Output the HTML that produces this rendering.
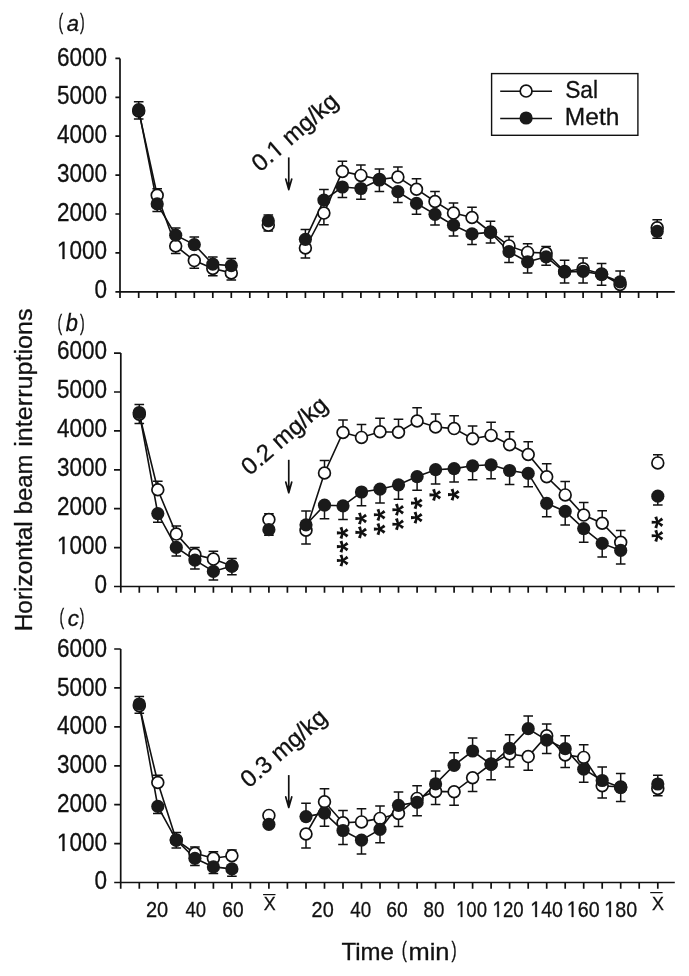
<!DOCTYPE html>
<html><head><meta charset="utf-8"><style>
html,body{margin:0;padding:0;background:#fff;width:689px;height:976px;overflow:hidden}
svg{display:block;filter:grayscale(1)}
text{font-family:"Liberation Sans", sans-serif;fill:#111;stroke:#111;stroke-width:0.3px}
</style></head><body>
<svg width="689" height="976" viewBox="0 0 689 976">
<defs><g id="ast"><path d="M0.00 -1.00L-5.90 -1.55L-5.90 1.55L-0.00 1.00ZM-0.95 -0.31L-3.30 5.13L-0.35 6.09L0.95 0.31ZM-0.59 0.81L3.86 4.72L5.68 2.21L0.59 -0.81ZM0.59 0.81L5.68 -2.21L3.86 -4.72L-0.59 -0.81ZM0.95 -0.31L-0.35 -6.09L-3.30 -5.13L-0.95 0.31Z" fill="#111"/><circle r="1.5" fill="#111"/></g></defs>
<path d="M120.0 58.4V298.1M120.0 291.8H674.8" stroke="#111" stroke-width="1.7" fill="none"/>
<path d="M115.4 291.8H120.0M115.4 252.9H120.0M115.4 214.0H120.0M115.4 175.1H120.0M115.4 136.2H120.0M115.4 97.3H120.0M115.4 58.4H120.0M138.7 291.8V298.1M157.2 291.8V298.1M175.7 291.8V298.1M194.3 291.8V298.1M212.8 291.8V298.1M231.3 291.8V298.1M249.8 291.8V298.1M268.3 291.8V298.1M286.8 291.8V298.1M305.4 291.8V298.1M323.9 291.8V298.1M342.4 291.8V298.1M360.9 291.8V298.1M379.4 291.8V298.1M397.9 291.8V298.1M416.5 291.8V298.1M435.0 291.8V298.1M453.5 291.8V298.1M472.0 291.8V298.1M490.5 291.8V298.1M509.0 291.8V298.1M527.6 291.8V298.1M546.1 291.8V298.1M564.6 291.8V298.1M583.1 291.8V298.1M601.6 291.8V298.1M620.1 291.8V298.1M638.6 291.8V298.1M657.2 291.8V298.1" stroke="#111" stroke-width="1.7" fill="none"/>
<text transform="translate(106.90 298.00) scale(0.9 1)" font-size="25" text-anchor="end">0</text>
<g transform="translate(106.90 259.00) scale(0.9 1)"><text font-size="25" text-anchor="end"> 000</text><path transform="translate(-55.615 0) scale(0.012207 -0.012207)" d="M515 0L515 1237L197 1010L197 1180L530 1409L696 1409L696 0Z" fill="#111" stroke="#111" stroke-width="24.6"/></g>
<text transform="translate(106.90 221.00) scale(0.9 1)" font-size="25" text-anchor="end">2000</text>
<text transform="translate(106.90 182.00) scale(0.9 1)" font-size="25" text-anchor="end">3000</text>
<text transform="translate(106.90 143.00) scale(0.9 1)" font-size="25" text-anchor="end">4000</text>
<text transform="translate(106.90 104.00) scale(0.9 1)" font-size="25" text-anchor="end">5000</text>
<text transform="translate(106.90 66.00) scale(0.9 1)" font-size="25" text-anchor="end">6000</text>
<polyline points="138.7,110.9 157.2,195.2 175.7,246.0 194.3,260.6 212.8,268.5 231.3,272.9" stroke="#111" stroke-width="1.6" fill="none"/>
<polyline points="138.7,109.7 157.2,203.9 175.7,235.2 194.3,244.6 212.8,264.2 231.3,265.6" stroke="#111" stroke-width="1.6" fill="none"/>
<polyline points="305.4,248.0 323.9,213.1 342.4,171.5 360.9,175.4 379.4,179.5 397.9,177.1 416.5,189.2 435.0,201.5 453.5,213.1 472.0,217.5 490.5,232.0 509.0,245.9 527.6,252.4 546.1,253.0 564.6,271.5 583.1,268.8 601.6,274.0 620.1,284.5" stroke="#111" stroke-width="1.6" fill="none"/>
<polyline points="305.4,239.3 323.9,200.1 342.4,187.0 360.9,188.5 379.4,180.0 397.9,191.7 416.5,203.4 435.0,214.3 453.5,225.2 472.0,233.9 490.5,232.4 509.0,251.7 527.6,261.8 546.1,256.8 564.6,272.0 583.1,271.4 601.6,274.5 620.1,281.9" stroke="#111" stroke-width="1.6" fill="none"/>
<path d="M138.7 109.7V101.8M133.9 101.8H143.5M138.7 110.9V119.0M133.9 119.0H143.5M157.2 195.2V188.7M152.4 188.7H162.0M157.2 203.9V211.6M152.4 211.6H162.0M175.7 235.2V227.9M170.9 227.9H180.5M175.7 246.0V253.6M170.9 253.6H180.5M194.3 244.6V237.0M189.5 237.0H199.1M194.3 260.6V268.2M189.5 268.2H199.1M212.8 264.2V256.9M208.0 256.9H217.6M212.8 268.5V275.8M208.0 275.8H217.6M231.3 265.6V258.4M226.5 258.4H236.1M231.3 272.9V279.9M226.5 279.9H236.1M268.3 220.8V214.9M263.5 214.9H273.1M268.3 225.1V231.0M263.5 231.0H273.1M305.4 239.3V229.5M300.6 229.5H310.2M305.4 248.0V258.1M300.6 258.1H310.2M323.9 200.1V189.5M319.1 189.5H328.7M323.9 213.1V224.7M319.1 224.7H328.7M342.4 171.5V161.2M337.6 161.2H347.2M342.4 187.0V197.6M337.6 197.6H347.2M360.9 175.4V165.0M356.1 165.0H365.7M360.9 188.5V199.3M356.1 199.3H365.7M379.4 179.5V168.9M374.6 168.9H384.2M379.4 180.0V191.4M374.6 191.4H384.2M397.9 177.1V167.1M393.1 167.1H402.7M397.9 191.7V202.5M393.1 202.5H402.7M416.5 189.2V178.7M411.7 178.7H421.3M416.5 203.4V214.2M411.7 214.2H421.3M435.0 201.5V191.4M430.2 191.4H439.8M435.0 214.3V225.0M430.2 225.0H439.8M453.5 213.1V203.0M448.7 203.0H458.3M453.5 225.2V235.9M448.7 235.9H458.3M472.0 217.5V207.3M467.2 207.3H476.8M472.0 233.9V244.6M467.2 244.6H476.8M490.5 232.0V221.2M485.7 221.2H495.3M490.5 232.4V243.0M485.7 243.0H495.3M509.0 245.9V236.4M504.2 236.4H513.8M509.0 251.7V262.6M504.2 262.6H513.8M527.6 252.4V243.7M522.8 243.7H532.4M527.6 261.8V273.0M522.8 273.0H532.4M546.1 253.0V246.6M541.3 246.6H550.9M546.1 256.8V265.2M541.3 265.2H550.9M564.6 271.5V260.2M559.8 260.2H569.4M564.6 272.0V283.0M559.8 283.0H569.4M583.1 268.8V258.0M578.3 258.0H587.9M583.1 271.4V283.1M578.3 283.1H587.9M601.6 274.0V263.6M596.8 263.6H606.4M601.6 274.5V285.3M596.8 285.3H606.4M620.1 281.9V271.1M615.3 271.1H624.9M657.2 227.8V219.8M652.4 219.8H662.0M657.2 231.4V238.3M652.4 238.3H662.0" stroke="#111" stroke-width="1.5" fill="none"/>
<circle cx="138.7" cy="110.9" r="5.9" fill="#fff" stroke="#111" stroke-width="1.7"/>
<circle cx="157.2" cy="195.2" r="5.9" fill="#fff" stroke="#111" stroke-width="1.7"/>
<circle cx="175.7" cy="246.0" r="5.9" fill="#fff" stroke="#111" stroke-width="1.7"/>
<circle cx="194.3" cy="260.6" r="5.9" fill="#fff" stroke="#111" stroke-width="1.7"/>
<circle cx="212.8" cy="268.5" r="5.9" fill="#fff" stroke="#111" stroke-width="1.7"/>
<circle cx="231.3" cy="272.9" r="5.9" fill="#fff" stroke="#111" stroke-width="1.7"/>
<circle cx="268.3" cy="225.1" r="5.9" fill="#fff" stroke="#111" stroke-width="1.7"/>
<circle cx="305.4" cy="248.0" r="5.9" fill="#fff" stroke="#111" stroke-width="1.7"/>
<circle cx="323.9" cy="213.1" r="5.9" fill="#fff" stroke="#111" stroke-width="1.7"/>
<circle cx="342.4" cy="171.5" r="5.9" fill="#fff" stroke="#111" stroke-width="1.7"/>
<circle cx="360.9" cy="175.4" r="5.9" fill="#fff" stroke="#111" stroke-width="1.7"/>
<circle cx="379.4" cy="179.5" r="5.9" fill="#fff" stroke="#111" stroke-width="1.7"/>
<circle cx="397.9" cy="177.1" r="5.9" fill="#fff" stroke="#111" stroke-width="1.7"/>
<circle cx="416.5" cy="189.2" r="5.9" fill="#fff" stroke="#111" stroke-width="1.7"/>
<circle cx="435.0" cy="201.5" r="5.9" fill="#fff" stroke="#111" stroke-width="1.7"/>
<circle cx="453.5" cy="213.1" r="5.9" fill="#fff" stroke="#111" stroke-width="1.7"/>
<circle cx="472.0" cy="217.5" r="5.9" fill="#fff" stroke="#111" stroke-width="1.7"/>
<circle cx="490.5" cy="232.0" r="5.9" fill="#fff" stroke="#111" stroke-width="1.7"/>
<circle cx="509.0" cy="245.9" r="5.9" fill="#fff" stroke="#111" stroke-width="1.7"/>
<circle cx="527.6" cy="252.4" r="5.9" fill="#fff" stroke="#111" stroke-width="1.7"/>
<circle cx="546.1" cy="253.0" r="5.9" fill="#fff" stroke="#111" stroke-width="1.7"/>
<circle cx="564.6" cy="271.5" r="5.9" fill="#fff" stroke="#111" stroke-width="1.7"/>
<circle cx="583.1" cy="268.8" r="5.9" fill="#fff" stroke="#111" stroke-width="1.7"/>
<circle cx="601.6" cy="274.0" r="5.9" fill="#fff" stroke="#111" stroke-width="1.7"/>
<circle cx="620.1" cy="284.5" r="5.9" fill="#fff" stroke="#111" stroke-width="1.7"/>
<circle cx="657.2" cy="227.8" r="5.9" fill="#fff" stroke="#111" stroke-width="1.7"/>
<circle cx="138.7" cy="109.7" r="6.6" fill="#1a1a1a"/>
<circle cx="157.2" cy="203.9" r="6.6" fill="#1a1a1a"/>
<circle cx="175.7" cy="235.2" r="6.6" fill="#1a1a1a"/>
<circle cx="194.3" cy="244.6" r="6.6" fill="#1a1a1a"/>
<circle cx="212.8" cy="264.2" r="6.6" fill="#1a1a1a"/>
<circle cx="231.3" cy="265.6" r="6.6" fill="#1a1a1a"/>
<circle cx="268.3" cy="220.8" r="6.6" fill="#1a1a1a"/>
<circle cx="305.4" cy="239.3" r="6.6" fill="#1a1a1a"/>
<circle cx="323.9" cy="200.1" r="6.6" fill="#1a1a1a"/>
<circle cx="342.4" cy="187.0" r="6.6" fill="#1a1a1a"/>
<circle cx="360.9" cy="188.5" r="6.6" fill="#1a1a1a"/>
<circle cx="379.4" cy="180.0" r="6.6" fill="#1a1a1a"/>
<circle cx="397.9" cy="191.7" r="6.6" fill="#1a1a1a"/>
<circle cx="416.5" cy="203.4" r="6.6" fill="#1a1a1a"/>
<circle cx="435.0" cy="214.3" r="6.6" fill="#1a1a1a"/>
<circle cx="453.5" cy="225.2" r="6.6" fill="#1a1a1a"/>
<circle cx="472.0" cy="233.9" r="6.6" fill="#1a1a1a"/>
<circle cx="490.5" cy="232.4" r="6.6" fill="#1a1a1a"/>
<circle cx="509.0" cy="251.7" r="6.6" fill="#1a1a1a"/>
<circle cx="527.6" cy="261.8" r="6.6" fill="#1a1a1a"/>
<circle cx="546.1" cy="256.8" r="6.6" fill="#1a1a1a"/>
<circle cx="564.6" cy="272.0" r="6.6" fill="#1a1a1a"/>
<circle cx="583.1" cy="271.4" r="6.6" fill="#1a1a1a"/>
<circle cx="601.6" cy="274.5" r="6.6" fill="#1a1a1a"/>
<circle cx="620.1" cy="281.9" r="6.6" fill="#1a1a1a"/>
<circle cx="657.2" cy="231.4" r="6.6" fill="#1a1a1a"/>
<path d="M288.75 157.4V187.6" stroke="#111" stroke-width="1.7"/>
<path d="M285.75 179.00L288.75 189.60L291.75 179.00" stroke="#111" stroke-width="1.7" fill="none" stroke-linejoin="round" stroke-linecap="round"/>
<path d="M287.05 182.60L288.75 190.40L290.45 182.60Z" fill="#111"/>
<path d="M120.8 353.1V592.8M120.8 586.5H674.8" stroke="#111" stroke-width="1.7" fill="none"/>
<path d="M114.0 586.5H120.8M114.0 547.6H120.8M114.0 508.7H120.8M114.0 469.8H120.8M114.0 430.9H120.8M114.0 392.0H120.8M114.0 353.1H120.8M139.3 586.5V592.8M157.8 586.5V592.8M176.3 586.5V592.8M194.9 586.5V592.8M213.4 586.5V592.8M231.9 586.5V592.8M250.4 586.5V592.8M268.9 586.5V592.8M287.4 586.5V592.8M306.0 586.5V592.8M324.5 586.5V592.8M343.0 586.5V592.8M361.5 586.5V592.8M380.0 586.5V592.8M398.5 586.5V592.8M417.1 586.5V592.8M435.6 586.5V592.8M454.1 586.5V592.8M472.6 586.5V592.8M491.1 586.5V592.8M509.6 586.5V592.8M528.2 586.5V592.8M546.7 586.5V592.8M565.2 586.5V592.8M583.7 586.5V592.8M602.2 586.5V592.8M620.7 586.5V592.8M639.2 586.5V592.8M657.8 586.5V592.8" stroke="#111" stroke-width="1.7" fill="none"/>
<text transform="translate(106.90 593.00) scale(0.9 1)" font-size="25" text-anchor="end">0</text>
<g transform="translate(106.90 554.00) scale(0.9 1)"><text font-size="25" text-anchor="end"> 000</text><path transform="translate(-55.615 0) scale(0.012207 -0.012207)" d="M515 0L515 1237L197 1010L197 1180L530 1409L696 1409L696 0Z" fill="#111" stroke="#111" stroke-width="24.6"/></g>
<text transform="translate(106.90 515.00) scale(0.9 1)" font-size="25" text-anchor="end">2000</text>
<text transform="translate(106.90 476.00) scale(0.9 1)" font-size="25" text-anchor="end">3000</text>
<text transform="translate(106.90 437.00) scale(0.9 1)" font-size="25" text-anchor="end">4000</text>
<text transform="translate(106.90 398.00) scale(0.9 1)" font-size="25" text-anchor="end">5000</text>
<text transform="translate(106.90 359.00) scale(0.9 1)" font-size="25" text-anchor="end">6000</text>
<polyline points="139.3,414.2 157.8,489.8 176.3,534.1 194.9,554.5 213.4,559.1 231.9,566.0" stroke="#111" stroke-width="1.6" fill="none"/>
<polyline points="139.3,412.5 157.8,513.6 176.3,547.4 194.9,560.1 213.4,571.4 231.9,566.1" stroke="#111" stroke-width="1.6" fill="none"/>
<polyline points="306.0,530.3 324.5,473.0 343.0,432.5 361.5,437.4 380.0,431.7 398.5,432.2 417.1,421.0 435.6,427.0 454.1,428.6 472.6,438.7 491.1,435.4 509.6,444.8 528.2,454.5 546.7,476.8 565.2,494.9 583.7,515.1 602.2,523.2 620.7,542.3" stroke="#111" stroke-width="1.6" fill="none"/>
<polyline points="306.0,524.8 324.5,505.2 343.0,505.8 361.5,492.0 380.0,489.2 398.5,484.8 417.1,476.6 435.6,469.7 454.1,468.6 472.6,465.8 491.1,464.8 509.6,470.5 528.2,473.4 546.7,503.3 565.2,511.4 583.7,528.6 602.2,543.4 620.7,550.4" stroke="#111" stroke-width="1.6" fill="none"/>
<path d="M139.3 412.5V404.4M134.5 404.4H144.1M139.3 414.2V423.4M134.5 423.4H144.1M157.8 489.8V481.2M153.0 481.2H162.6M157.8 513.6V522.2M153.0 522.2H162.6M176.3 534.1V525.9M171.5 525.9H181.1M176.3 547.4V556.0M171.5 556.0H181.1M194.9 554.5V547.4M190.1 547.4H199.7M194.9 560.1V568.9M190.1 568.9H199.7M213.4 559.1V551.3M208.6 551.3H218.2M213.4 571.4V580.0M208.6 580.0H218.2M231.9 566.0V558.4M227.1 558.4H236.7M231.9 566.1V574.7M227.1 574.7H236.7M268.9 519.6V513.7M264.1 513.7H273.7M268.9 529.7V535.3M264.1 535.3H273.7M306.0 524.8V510.9M301.2 510.9H310.8M306.0 530.3V543.9M301.2 543.9H310.8M324.5 473.0V460.6M319.7 460.6H329.3M324.5 505.2V518.7M319.7 518.7H329.3M343.0 432.5V420.0M338.2 420.0H347.8M343.0 505.8V519.6M338.2 519.6H347.8M361.5 437.4V424.6M356.7 424.6H366.3M361.5 492.0V505.7M356.7 505.7H366.3M380.0 431.7V418.3M375.2 418.3H384.8M380.0 489.2V503.1M375.2 503.1H384.8M398.5 432.2V419.2M393.7 419.2H403.3M398.5 484.8V499.3M393.7 499.3H403.3M417.1 421.0V407.8M412.3 407.8H421.9M417.1 476.6V490.2M412.3 490.2H421.9M435.6 427.0V413.9M430.8 413.9H440.4M435.6 469.7V484.1M430.8 484.1H440.4M454.1 428.6V415.7M449.3 415.7H458.9M454.1 468.6V482.0M449.3 482.0H458.9M472.6 438.7V426.1M467.8 426.1H477.4M472.6 465.8V479.8M467.8 479.8H477.4M491.1 435.4V422.3M486.3 422.3H495.9M491.1 464.8V478.7M486.3 478.7H495.9M509.6 444.8V431.7M504.8 431.7H514.4M509.6 470.5V484.5M504.8 484.5H514.4M528.2 454.5V441.8M523.4 441.8H533.0M528.2 473.4V486.7M523.4 486.7H533.0M546.7 476.8V463.8M541.9 463.8H551.5M546.7 503.3V516.8M541.9 516.8H551.5M565.2 494.9V481.4M560.4 481.4H570.0M565.2 511.4V524.9M560.4 524.9H570.0M583.7 515.1V502.5M578.9 502.5H588.5M583.7 528.6V542.3M578.9 542.3H588.5M602.2 523.2V510.8M597.4 510.8H607.0M602.2 543.4V557.1M597.4 557.1H607.0M620.7 542.3V530.4M615.9 530.4H625.5M620.7 550.4V564.1M615.9 564.1H625.5M657.8 462.9V454.8M653.0 454.8H662.6M657.8 496.2V504.9M653.0 504.9H662.6" stroke="#111" stroke-width="1.5" fill="none"/>
<circle cx="139.3" cy="414.2" r="5.9" fill="#fff" stroke="#111" stroke-width="1.7"/>
<circle cx="157.8" cy="489.8" r="5.9" fill="#fff" stroke="#111" stroke-width="1.7"/>
<circle cx="176.3" cy="534.1" r="5.9" fill="#fff" stroke="#111" stroke-width="1.7"/>
<circle cx="194.9" cy="554.5" r="5.9" fill="#fff" stroke="#111" stroke-width="1.7"/>
<circle cx="213.4" cy="559.1" r="5.9" fill="#fff" stroke="#111" stroke-width="1.7"/>
<circle cx="231.9" cy="566.0" r="5.9" fill="#fff" stroke="#111" stroke-width="1.7"/>
<circle cx="268.9" cy="519.6" r="5.9" fill="#fff" stroke="#111" stroke-width="1.7"/>
<circle cx="306.0" cy="530.3" r="5.9" fill="#fff" stroke="#111" stroke-width="1.7"/>
<circle cx="324.5" cy="473.0" r="5.9" fill="#fff" stroke="#111" stroke-width="1.7"/>
<circle cx="343.0" cy="432.5" r="5.9" fill="#fff" stroke="#111" stroke-width="1.7"/>
<circle cx="361.5" cy="437.4" r="5.9" fill="#fff" stroke="#111" stroke-width="1.7"/>
<circle cx="380.0" cy="431.7" r="5.9" fill="#fff" stroke="#111" stroke-width="1.7"/>
<circle cx="398.5" cy="432.2" r="5.9" fill="#fff" stroke="#111" stroke-width="1.7"/>
<circle cx="417.1" cy="421.0" r="5.9" fill="#fff" stroke="#111" stroke-width="1.7"/>
<circle cx="435.6" cy="427.0" r="5.9" fill="#fff" stroke="#111" stroke-width="1.7"/>
<circle cx="454.1" cy="428.6" r="5.9" fill="#fff" stroke="#111" stroke-width="1.7"/>
<circle cx="472.6" cy="438.7" r="5.9" fill="#fff" stroke="#111" stroke-width="1.7"/>
<circle cx="491.1" cy="435.4" r="5.9" fill="#fff" stroke="#111" stroke-width="1.7"/>
<circle cx="509.6" cy="444.8" r="5.9" fill="#fff" stroke="#111" stroke-width="1.7"/>
<circle cx="528.2" cy="454.5" r="5.9" fill="#fff" stroke="#111" stroke-width="1.7"/>
<circle cx="546.7" cy="476.8" r="5.9" fill="#fff" stroke="#111" stroke-width="1.7"/>
<circle cx="565.2" cy="494.9" r="5.9" fill="#fff" stroke="#111" stroke-width="1.7"/>
<circle cx="583.7" cy="515.1" r="5.9" fill="#fff" stroke="#111" stroke-width="1.7"/>
<circle cx="602.2" cy="523.2" r="5.9" fill="#fff" stroke="#111" stroke-width="1.7"/>
<circle cx="620.7" cy="542.3" r="5.9" fill="#fff" stroke="#111" stroke-width="1.7"/>
<circle cx="657.8" cy="462.9" r="5.9" fill="#fff" stroke="#111" stroke-width="1.7"/>
<circle cx="139.3" cy="412.5" r="6.6" fill="#1a1a1a"/>
<circle cx="157.8" cy="513.6" r="6.6" fill="#1a1a1a"/>
<circle cx="176.3" cy="547.4" r="6.6" fill="#1a1a1a"/>
<circle cx="194.9" cy="560.1" r="6.6" fill="#1a1a1a"/>
<circle cx="213.4" cy="571.4" r="6.6" fill="#1a1a1a"/>
<circle cx="231.9" cy="566.1" r="6.6" fill="#1a1a1a"/>
<circle cx="268.9" cy="529.7" r="6.6" fill="#1a1a1a"/>
<circle cx="306.0" cy="524.8" r="6.6" fill="#1a1a1a"/>
<circle cx="324.5" cy="505.2" r="6.6" fill="#1a1a1a"/>
<circle cx="343.0" cy="505.8" r="6.6" fill="#1a1a1a"/>
<circle cx="361.5" cy="492.0" r="6.6" fill="#1a1a1a"/>
<circle cx="380.0" cy="489.2" r="6.6" fill="#1a1a1a"/>
<circle cx="398.5" cy="484.8" r="6.6" fill="#1a1a1a"/>
<circle cx="417.1" cy="476.6" r="6.6" fill="#1a1a1a"/>
<circle cx="435.6" cy="469.7" r="6.6" fill="#1a1a1a"/>
<circle cx="454.1" cy="468.6" r="6.6" fill="#1a1a1a"/>
<circle cx="472.6" cy="465.8" r="6.6" fill="#1a1a1a"/>
<circle cx="491.1" cy="464.8" r="6.6" fill="#1a1a1a"/>
<circle cx="509.6" cy="470.5" r="6.6" fill="#1a1a1a"/>
<circle cx="528.2" cy="473.4" r="6.6" fill="#1a1a1a"/>
<circle cx="546.7" cy="503.3" r="6.6" fill="#1a1a1a"/>
<circle cx="565.2" cy="511.4" r="6.6" fill="#1a1a1a"/>
<circle cx="583.7" cy="528.6" r="6.6" fill="#1a1a1a"/>
<circle cx="602.2" cy="543.4" r="6.6" fill="#1a1a1a"/>
<circle cx="620.7" cy="550.4" r="6.6" fill="#1a1a1a"/>
<circle cx="657.8" cy="496.2" r="6.6" fill="#1a1a1a"/>
<use href="#ast" x="342.8" y="532.9"/>
<use href="#ast" x="342.8" y="546.6"/>
<use href="#ast" x="342.8" y="560.5"/>
<use href="#ast" x="361.3" y="518.5"/>
<use href="#ast" x="361.3" y="532.4"/>
<use href="#ast" x="379.8" y="514.8"/>
<use href="#ast" x="379.8" y="529.1"/>
<use href="#ast" x="398.3" y="509.7"/>
<use href="#ast" x="398.3" y="524.2"/>
<use href="#ast" x="416.9" y="503.1"/>
<use href="#ast" x="416.9" y="517.6"/>
<use href="#ast" x="435.4" y="494.9"/>
<use href="#ast" x="453.9" y="494.6"/>
<use href="#ast" x="657.6" y="522.3"/>
<use href="#ast" x="657.6" y="535.8"/>
<path d="M288.75 459.8V490.7" stroke="#111" stroke-width="1.7"/>
<path d="M285.75 482.10L288.75 492.70L291.75 482.10" stroke="#111" stroke-width="1.7" fill="none" stroke-linejoin="round" stroke-linecap="round"/>
<path d="M287.05 485.70L288.75 493.50L290.45 485.70Z" fill="#111"/>
<path d="M120.7 649.0V888.8M120.7 882.5H674.8" stroke="#111" stroke-width="1.7" fill="none"/>
<path d="M114.2 882.5H120.7M114.2 843.6H120.7M114.2 804.7H120.7M114.2 765.8H120.7M114.2 726.8H120.7M114.2 687.9H120.7M114.2 649.0H120.7M139.3 882.5V888.8M157.8 882.5V888.8M176.3 882.5V888.8M194.9 882.5V888.8M213.4 882.5V888.8M231.9 882.5V888.8M250.4 882.5V888.8M268.9 882.5V888.8M287.4 882.5V888.8M306.0 882.5V888.8M324.5 882.5V888.8M343.0 882.5V888.8M361.5 882.5V888.8M380.0 882.5V888.8M398.5 882.5V888.8M417.1 882.5V888.8M435.6 882.5V888.8M454.1 882.5V888.8M472.6 882.5V888.8M491.1 882.5V888.8M509.6 882.5V888.8M528.2 882.5V888.8M546.7 882.5V888.8M565.2 882.5V888.8M583.7 882.5V888.8M602.2 882.5V888.8M620.7 882.5V888.8M639.2 882.5V888.8M657.8 882.5V888.8" stroke="#111" stroke-width="1.7" fill="none"/>
<text transform="translate(106.90 889.00) scale(0.9 1)" font-size="25" text-anchor="end">0</text>
<g transform="translate(106.90 851.00) scale(0.9 1)"><text font-size="25" text-anchor="end"> 000</text><path transform="translate(-55.615 0) scale(0.012207 -0.012207)" d="M515 0L515 1237L197 1010L197 1180L530 1409L696 1409L696 0Z" fill="#111" stroke="#111" stroke-width="24.6"/></g>
<text transform="translate(106.90 812.00) scale(0.9 1)" font-size="25" text-anchor="end">2000</text>
<text transform="translate(106.90 773.00) scale(0.9 1)" font-size="25" text-anchor="end">3000</text>
<text transform="translate(106.90 734.00) scale(0.9 1)" font-size="25" text-anchor="end">4000</text>
<text transform="translate(106.90 696.00) scale(0.9 1)" font-size="25" text-anchor="end">5000</text>
<text transform="translate(106.90 657.00) scale(0.9 1)" font-size="25" text-anchor="end">6000</text>
<polyline points="139.3,705.7 157.8,782.5 176.3,840.0 194.9,853.2 213.4,858.3 231.9,855.8" stroke="#111" stroke-width="1.6" fill="none"/>
<polyline points="139.3,704.0 157.8,806.4 176.3,840.1 194.9,858.3 213.4,866.9 231.9,868.9" stroke="#111" stroke-width="1.6" fill="none"/>
<polyline points="306.0,834.0 324.5,801.8 343.0,822.7 361.5,821.9 380.0,818.4 398.5,813.5 417.1,798.4 435.6,791.4 454.1,791.8 472.6,777.8 491.1,764.0 509.6,754.0 528.2,756.6 546.7,735.7 565.2,754.9 583.7,757.4 602.2,785.8 620.7,787.0" stroke="#111" stroke-width="1.6" fill="none"/>
<polyline points="306.0,816.6 324.5,813.1 343.0,830.5 361.5,840.2 380.0,829.4 398.5,805.3 417.1,802.4 435.6,783.9 454.1,765.3 472.6,751.0 491.1,764.4 509.6,748.4 528.2,728.7 546.7,740.1 565.2,748.7 583.7,769.2 602.2,780.5 620.7,787.5" stroke="#111" stroke-width="1.6" fill="none"/>
<path d="M139.3 704.0V696.5M134.5 696.5H144.1M139.3 705.7V713.3M134.5 713.3H144.1M157.8 782.5V775.3M153.0 775.3H162.6M157.8 806.4V813.6M153.0 813.6H162.6M176.3 840.0V832.6M171.5 832.6H181.1M176.3 840.1V847.9M171.5 847.9H181.1M194.9 853.2V847.0M190.1 847.0H199.7M194.9 858.3V865.5M190.1 865.5H199.7M213.4 858.3V851.7M208.6 851.7H218.2M213.4 866.9V873.6M208.6 873.6H218.2M231.9 855.8V850.1M227.1 850.1H236.7M231.9 868.9V876.3M227.1 876.3H236.7M306.0 816.6V803.2M301.2 803.2H310.8M306.0 834.0V848.0M301.2 848.0H310.8M324.5 801.8V788.7M319.7 788.7H329.3M324.5 813.1V826.2M319.7 826.2H329.3M343.0 822.7V810.5M338.2 810.5H347.8M343.0 830.5V844.5M338.2 844.5H347.8M361.5 821.9V808.8M356.7 808.8H366.3M361.5 840.2V854.1M356.7 854.1H366.3M380.0 818.4V805.9M375.2 805.9H384.8M380.0 829.4V842.8M375.2 842.8H384.8M398.5 805.3V791.9M393.7 791.9H403.3M398.5 813.5V826.6M393.7 826.6H403.3M417.1 798.4V785.8M412.3 785.8H421.9M417.1 802.4V815.8M412.3 815.8H421.9M435.6 783.9V770.9M430.8 770.9H440.4M435.6 791.4V804.5M430.8 804.5H440.4M454.1 765.3V752.7M449.3 752.7H458.9M454.1 791.8V805.3M449.3 805.3H458.9M472.6 751.0V738.0M467.8 738.0H477.4M472.6 777.8V791.4M467.8 791.4H477.4M491.1 764.0V751.0M486.3 751.0H495.9M491.1 764.4V779.8M486.3 779.8H495.9M509.6 748.4V734.8M504.8 734.8H514.4M509.6 754.0V767.0M504.8 767.0H514.4M528.2 728.7V716.0M523.4 716.0H533.0M528.2 756.6V770.2M523.4 770.2H533.0M546.7 735.7V724.0M541.9 724.0H551.5M546.7 740.1V753.5M541.9 753.5H551.5M565.2 748.7V735.8M560.4 735.8H570.0M565.2 754.9V767.5M560.4 767.5H570.0M583.7 757.4V744.8M578.9 744.8H588.5M583.7 769.2V782.3M578.9 782.3H588.5M602.2 780.5V766.9M597.4 766.9H607.0M602.2 785.8V797.9M597.4 797.9H607.0M620.7 787.0V773.6M615.9 773.6H625.5M620.7 787.5V801.4M615.9 801.4H625.5M657.8 784.0V775.3M653.0 775.3H662.6M657.8 788.4V795.7M653.0 795.7H662.6" stroke="#111" stroke-width="1.5" fill="none"/>
<circle cx="139.3" cy="705.7" r="5.9" fill="#fff" stroke="#111" stroke-width="1.7"/>
<circle cx="157.8" cy="782.5" r="5.9" fill="#fff" stroke="#111" stroke-width="1.7"/>
<circle cx="176.3" cy="840.0" r="5.9" fill="#fff" stroke="#111" stroke-width="1.7"/>
<circle cx="194.9" cy="853.2" r="5.9" fill="#fff" stroke="#111" stroke-width="1.7"/>
<circle cx="213.4" cy="858.3" r="5.9" fill="#fff" stroke="#111" stroke-width="1.7"/>
<circle cx="231.9" cy="855.8" r="5.9" fill="#fff" stroke="#111" stroke-width="1.7"/>
<circle cx="268.9" cy="815.4" r="5.9" fill="#fff" stroke="#111" stroke-width="1.7"/>
<circle cx="306.0" cy="834.0" r="5.9" fill="#fff" stroke="#111" stroke-width="1.7"/>
<circle cx="324.5" cy="801.8" r="5.9" fill="#fff" stroke="#111" stroke-width="1.7"/>
<circle cx="343.0" cy="822.7" r="5.9" fill="#fff" stroke="#111" stroke-width="1.7"/>
<circle cx="361.5" cy="821.9" r="5.9" fill="#fff" stroke="#111" stroke-width="1.7"/>
<circle cx="380.0" cy="818.4" r="5.9" fill="#fff" stroke="#111" stroke-width="1.7"/>
<circle cx="398.5" cy="813.5" r="5.9" fill="#fff" stroke="#111" stroke-width="1.7"/>
<circle cx="417.1" cy="798.4" r="5.9" fill="#fff" stroke="#111" stroke-width="1.7"/>
<circle cx="435.6" cy="791.4" r="5.9" fill="#fff" stroke="#111" stroke-width="1.7"/>
<circle cx="454.1" cy="791.8" r="5.9" fill="#fff" stroke="#111" stroke-width="1.7"/>
<circle cx="472.6" cy="777.8" r="5.9" fill="#fff" stroke="#111" stroke-width="1.7"/>
<circle cx="491.1" cy="764.0" r="5.9" fill="#fff" stroke="#111" stroke-width="1.7"/>
<circle cx="509.6" cy="754.0" r="5.9" fill="#fff" stroke="#111" stroke-width="1.7"/>
<circle cx="528.2" cy="756.6" r="5.9" fill="#fff" stroke="#111" stroke-width="1.7"/>
<circle cx="546.7" cy="735.7" r="5.9" fill="#fff" stroke="#111" stroke-width="1.7"/>
<circle cx="565.2" cy="754.9" r="5.9" fill="#fff" stroke="#111" stroke-width="1.7"/>
<circle cx="583.7" cy="757.4" r="5.9" fill="#fff" stroke="#111" stroke-width="1.7"/>
<circle cx="602.2" cy="785.8" r="5.9" fill="#fff" stroke="#111" stroke-width="1.7"/>
<circle cx="620.7" cy="787.0" r="5.9" fill="#fff" stroke="#111" stroke-width="1.7"/>
<circle cx="657.8" cy="788.4" r="5.9" fill="#fff" stroke="#111" stroke-width="1.7"/>
<circle cx="139.3" cy="704.0" r="6.6" fill="#1a1a1a"/>
<circle cx="157.8" cy="806.4" r="6.6" fill="#1a1a1a"/>
<circle cx="176.3" cy="840.1" r="6.6" fill="#1a1a1a"/>
<circle cx="194.9" cy="858.3" r="6.6" fill="#1a1a1a"/>
<circle cx="213.4" cy="866.9" r="6.6" fill="#1a1a1a"/>
<circle cx="231.9" cy="868.9" r="6.6" fill="#1a1a1a"/>
<circle cx="268.9" cy="824.4" r="6.6" fill="#1a1a1a"/>
<circle cx="306.0" cy="816.6" r="6.6" fill="#1a1a1a"/>
<circle cx="324.5" cy="813.1" r="6.6" fill="#1a1a1a"/>
<circle cx="343.0" cy="830.5" r="6.6" fill="#1a1a1a"/>
<circle cx="361.5" cy="840.2" r="6.6" fill="#1a1a1a"/>
<circle cx="380.0" cy="829.4" r="6.6" fill="#1a1a1a"/>
<circle cx="398.5" cy="805.3" r="6.6" fill="#1a1a1a"/>
<circle cx="417.1" cy="802.4" r="6.6" fill="#1a1a1a"/>
<circle cx="435.6" cy="783.9" r="6.6" fill="#1a1a1a"/>
<circle cx="454.1" cy="765.3" r="6.6" fill="#1a1a1a"/>
<circle cx="472.6" cy="751.0" r="6.6" fill="#1a1a1a"/>
<circle cx="491.1" cy="764.4" r="6.6" fill="#1a1a1a"/>
<circle cx="509.6" cy="748.4" r="6.6" fill="#1a1a1a"/>
<circle cx="528.2" cy="728.7" r="6.6" fill="#1a1a1a"/>
<circle cx="546.7" cy="740.1" r="6.6" fill="#1a1a1a"/>
<circle cx="565.2" cy="748.7" r="6.6" fill="#1a1a1a"/>
<circle cx="583.7" cy="769.2" r="6.6" fill="#1a1a1a"/>
<circle cx="602.2" cy="780.5" r="6.6" fill="#1a1a1a"/>
<circle cx="620.7" cy="787.5" r="6.6" fill="#1a1a1a"/>
<circle cx="657.8" cy="784.0" r="6.6" fill="#1a1a1a"/>
<path d="M288.75 775.1V805.5" stroke="#111" stroke-width="1.7"/>
<path d="M285.75 796.90L288.75 807.50L291.75 796.90" stroke="#111" stroke-width="1.7" fill="none" stroke-linejoin="round" stroke-linecap="round"/>
<path d="M287.05 800.50L288.75 808.30L290.45 800.50Z" fill="#111"/>
<text transform="translate(58.55 29.00) scale(0.65 1)" font-size="21.5">(</text>
<text transform="translate(80.02 29.00) scale(0.65 1)" font-size="21.5">)</text>
<text x="66.65" y="31.00" font-size="22" font-style="italic">a</text>
<text transform="translate(57.55 330.00) scale(0.65 1)" font-size="21.5">(</text>
<text transform="translate(79.92 330.00) scale(0.65 1)" font-size="21.5">)</text>
<text transform="translate(65.66 331.00) scale(0.95 1)" font-size="23" font-style="italic">b</text>
<text transform="translate(59.55 624.00) scale(0.65 1)" font-size="21.5">(</text>
<text transform="translate(79.72 624.00) scale(0.65 1)" font-size="21.5">)</text>
<text x="67.70" y="626.00" font-size="22.5" font-style="italic">c</text>
<g transform="translate(260.30 172.75) rotate(-41)"><text font-size="24">0.  mg/kg</text><path transform="translate(20.016 0) scale(0.011719 -0.011719)" d="M515 0L515 1237L197 1010L197 1180L530 1409L696 1409L696 0Z" fill="#111" stroke="#111" stroke-width="25.6"/></g>
<text transform="translate(249.85 476.35) rotate(-41)" font-size="24">0.2 mg/kg</text>
<text transform="translate(249.00 788.65) rotate(-41)" font-size="24">0.3 mg/kg</text>
<text transform="translate(145.99 917.00) scale(0.8936 1)" font-size="22.4">20</text>
<text transform="translate(185.39 917.00) scale(0.8275 1)" font-size="22.4">40</text>
<text transform="translate(222.33 917.00) scale(0.8548 1)" font-size="22.4">60</text>
<text transform="translate(311.59 917.00) scale(0.8893 1)" font-size="22.4">20</text>
<text transform="translate(350.29 917.00) scale(0.8359 1)" font-size="22.4">40</text>
<text transform="translate(386.22 917.00) scale(0.8634 1)" font-size="22.4">60</text>
<text transform="translate(423.46 917.00) scale(0.837 1)" font-size="22.4">80</text>
<g transform="translate(456.06 917.00) scale(0.8278 1)"><text font-size="22.4"> 00</text><path transform="translate(0.000 0) scale(0.010937 -0.010937)" d="M515 0L515 1237L197 1010L197 1180L530 1409L696 1409L696 0Z" fill="#111" stroke="#111" stroke-width="27.4"/></g>
<g transform="translate(492.55 917.00) scale(0.8307 1)"><text font-size="22.4"> 20</text><path transform="translate(0.000 0) scale(0.010937 -0.010937)" d="M515 0L515 1237L197 1010L197 1180L530 1409L696 1409L696 0Z" fill="#111" stroke="#111" stroke-width="27.4"/></g>
<g transform="translate(530.26 917.00) scale(0.8769 1)"><text font-size="22.4"> 40</text><path transform="translate(0.000 0) scale(0.010937 -0.010937)" d="M515 0L515 1237L197 1010L197 1180L530 1409L696 1409L696 0Z" fill="#111" stroke="#111" stroke-width="27.4"/></g>
<g transform="translate(566.75 917.00) scale(0.8797 1)"><text font-size="22.4"> 60</text><path transform="translate(0.000 0) scale(0.010937 -0.010937)" d="M515 0L515 1237L197 1010L197 1180L530 1409L696 1409L696 0Z" fill="#111" stroke="#111" stroke-width="27.4"/></g>
<g transform="translate(604.25 917.00) scale(0.8797 1)"><text font-size="22.4"> 80</text><path transform="translate(0.000 0) scale(0.010937 -0.010937)" d="M515 0L515 1237L197 1010L197 1180L530 1409L696 1409L696 0Z" fill="#111" stroke="#111" stroke-width="27.4"/></g>
<text transform="translate(263.65 910.00) scale(0.95 1)" font-size="18.8">X</text>
<path d="M263.1 894.6H275.5" stroke="#111" stroke-width="1.2"/>
<text transform="translate(651.95 910.00) scale(0.95 1)" font-size="18.8">X</text>
<path d="M650.2 892.6H662.6" stroke="#111" stroke-width="1.2"/>
<text x="341.40" y="960.00" font-size="24">Time</text>
<text transform="translate(401.75 957.00) scale(0.7 1)" font-size="22">(</text>
<text transform="translate(408.50 960.00) scale(1.06 1)" font-size="24">min</text>
<text transform="translate(451.60 957.00) scale(0.7 1)" font-size="22">)</text>
<text transform="translate(31.9 631.28) rotate(-90) scale(0.99 1)" font-size="24.7">Horizontal</text>
<text transform="translate(31.9 514.35) rotate(-90) scale(0.969 1)" font-size="24.7">beam</text>
<text transform="translate(31.9 446.73) rotate(-90) scale(1.018 1)" font-size="24.7">interruptions</text>
<rect x="491.6" y="73.6" width="146.3" height="61.7" fill="none" stroke="#111" stroke-width="1.4"/>
<path d="M500.2 91.3H552M500.2 118.5H552" stroke="#111" stroke-width="1.5"/>
<circle cx="526.1" cy="91.1" r="5.9" fill="#fff" stroke="#111" stroke-width="1.7"/>
<circle cx="526.1" cy="118.0" r="6.6" fill="#1a1a1a"/>
<text transform="translate(565.15 98.00) scale(0.95 1)" font-size="24">Sal</text>
<text x="564.85" y="125.00" font-size="24.5">Meth</text>
</svg></body></html>
